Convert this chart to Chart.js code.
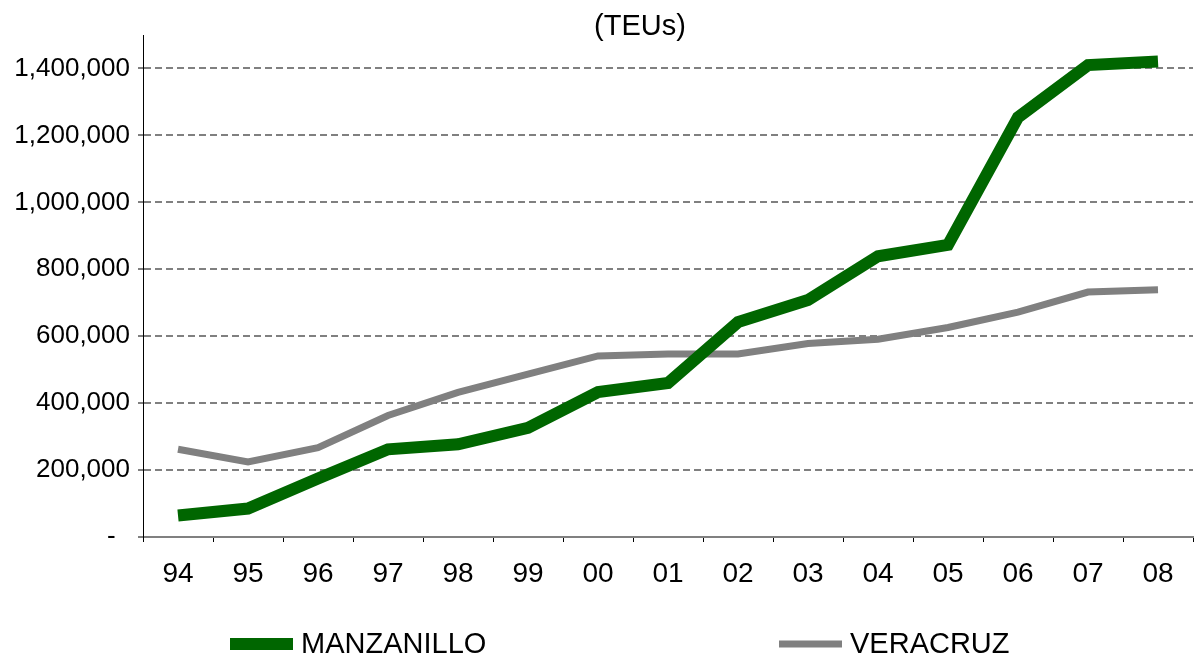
<!DOCTYPE html>
<html>
<head>
<meta charset="utf-8">
<script src="https://cdn.jsdelivr.net/npm/chart.js@4/dist/chart.umd.min.js"></script>
<style>
  html, body { margin: 0; padding: 0; background: #fff; }
  #wrap { position: relative; width: 1197px; height: 658px; }
</style>
</head>
<body>
<div id="wrap"><canvas id="c"></canvas></div>
<script>
const years = ['94','95','96','97','98','99','00','01','02','03','04','05','06','07','08'];
const manzanillo = [64000, 85000, 175000, 262000, 277000, 326000, 433000, 460000, 642000, 708000, 839000, 873000, 1254000, 1410000, 1421000];
const veracruz = [262000, 224000, 267000, 363000, 432000, 487000, 541000, 547000, 547000, 578000, 591000, 626000, 672000, 732000, 739000];
const seriesNames = ['MANZANILLO', 'VERACRUZ'];
const yTickValues = [0, 200000, 400000, 600000, 800000, 1000000, 1200000, 1400000];
const chartTitle = '(TEUs)';

const FONT = "'Liberation Sans', Arial, sans-serif";

const titlePlugin = {
  id: 'customTitle',
  afterDraw(chart) {
    const ctx = chart.ctx;
    ctx.save();
    ctx.font = '29px ' + FONT;
    ctx.fillStyle = '#000';
    ctx.textAlign = 'center';
    ctx.textBaseline = 'middle';
    ctx.fillText(chartTitle, 640, 27);
    ctx.restore();
  }
};

const legendPlugin = {
  id: 'customLegend',
  afterDraw(chart) {
    const ctx = chart.ctx;
    const xs = [230, 779];
    const y = 644;
    ctx.save();
    chart.data.datasets.forEach((ds, i) => {
      const x0 = xs[i];
      ctx.strokeStyle = ds.borderColor;
      ctx.lineWidth = ds.borderWidth;
      ctx.lineCap = 'butt';
      ctx.beginPath();
      ctx.moveTo(x0, y);
      ctx.lineTo(x0 + 63, y);
      ctx.stroke();
      ctx.font = '29px ' + FONT;
      ctx.fillStyle = '#000';
      ctx.textAlign = 'left';
      ctx.textBaseline = 'middle';
      ctx.fillText(ds.label, x0 + 71, y + 1);
    });
    ctx.restore();
  }
};

new Chart(document.getElementById('c'), {
  type: 'line',
  data: {
    labels: years,
    datasets: [
      { label: seriesNames[0], data: manzanillo, borderColor: '#006600', backgroundColor: '#006600',
        borderWidth: 12, pointRadius: 0, tension: 0, fill: false, borderJoinStyle: 'miter', borderCapStyle: 'butt' },
      { label: seriesNames[1], data: veracruz, borderColor: '#808080', backgroundColor: '#808080',
        borderWidth: 7, pointRadius: 0, tension: 0, fill: false, borderJoinStyle: 'miter', borderCapStyle: 'butt' }
    ]
  },
  options: {
    responsive: true,
    maintainAspectRatio: false,
    animation: false,
    layout: { padding: { top: 35, right: 4, bottom: 61, left: 0 } },
    plugins: { legend: { display: false }, title: { display: false }, tooltip: { enabled: false } },
    scales: {
      x: {
        offset: true,
        grid: { offset: true, drawOnChartArea: false, tickLength: 5, tickColor: '#000', tickWidth: 1 },
        border: { color: '#808080', width: 2 },
        ticks: { color: '#000', font: { family: FONT, size: 28 }, padding: 15, maxRotation: 0, autoSkip: false },
        afterFit(scale) { scale.height = 60; }
      },
      y: {
        min: 0,
        max: 1500000,
        grid: { color: '#808080', lineWidth: 2, tickLength: 5, tickColor: '#000', tickWidth: 1 },
        border: { color: '#000', width: 1, dash: [7, 4] },
        ticks: {
          color: '#000',
          font: { family: FONT, size: 26 },
          padding: 8,
          callback: (v) => v === 0 ? '-  ' : Number(v).toLocaleString('en-US')
        },
        afterBuildTicks(scale) { scale.ticks = yTickValues.map(v => ({ value: v })); },
        afterFit(scale) { scale.width = 143; }
      }
    }
  },
  plugins: [titlePlugin, legendPlugin]
});
</script>
</body>
</html>
